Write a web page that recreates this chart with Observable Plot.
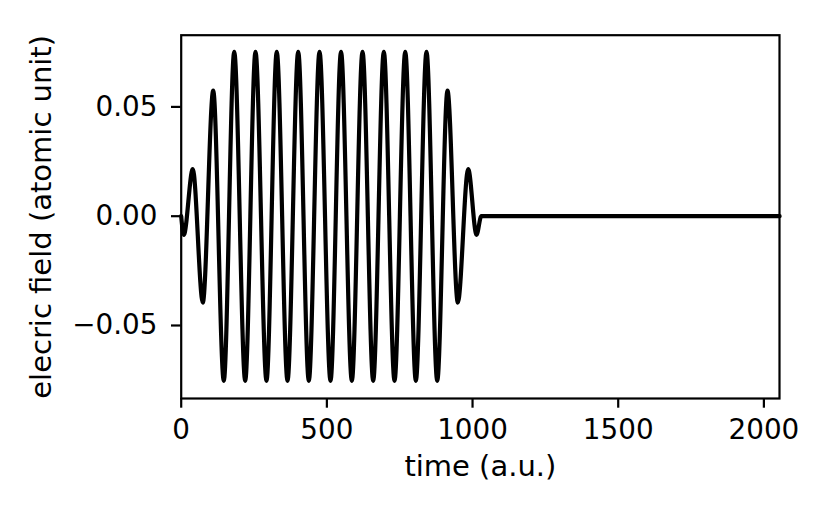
<!DOCTYPE html>
<html>
<head>
<meta charset="utf-8">
<script src="https://cdn.jsdelivr.net/npm/d3@7"></script>
<script src="https://cdn.jsdelivr.net/npm/@observablehq/plot@0.6"></script>
<style>
  html, body { margin: 0; padding: 0; background: white; }
</style>
</head>
<body>
<div id="chart"></div>
<script>
// time (a.u.) of each extremum of the pulse
const times = [0, 8.9, 39.8, 74.2, 109.9, 146.2, 182.0, 219.7, 255.0, 292.8, 328.0, 364.9, 401.6, 438.0, 474.8, 512.5, 548.6, 585.7, 622.4, 659.0, 695.5, 732.2, 769.0, 805.4, 842.0, 878.8, 914.0, 949.5, 985.0, 1013.7, 1030, 2054];
// electric field (atomic unit) at those times
const field = [0, -0.0085, 0.0215, -0.0395, 0.0574, -0.0753, 0.0752, -0.0753, 0.0752, -0.0753, 0.0752, -0.0753, 0.0752, -0.0753, 0.0752, -0.0753, 0.0752, -0.0753, 0.0752, -0.0753, 0.0752, -0.0753, 0.0752, -0.0753, 0.0752, -0.0753, 0.0574, -0.0395, 0.0215, -0.0085, 0, 0];
const xTicks = [0, 500, 1000, 1500, 2000];
const yTicks = [-0.05, 0, 0.05];
const xLabel = "time (a.u.)";
const yLabel = "elecric field (atomic unit)";

const data = times.map((t, i) => ({t, e: field[i]}));

const chart = Plot.plot({
  width: 830,
  height: 519,
  marginLeft: 180.7,
  marginRight: 51,
  marginTop: 34.7,
  marginBottom: 121,
  style: {fontFamily: "DejaVu Sans", fontSize: "27.8px", background: "white", color: "black"},
  x: {domain: [0, 2053.6]},
  y: {domain: [-0.0834, 0.0828]},
  marks: [
    Plot.line(data, {x: "t", y: "e", stroke: "black", strokeWidth: 4.2, curve: "monotone-x"}),
    Plot.frame({stroke: "black", strokeWidth: 2.2}),
    Plot.axisX({ticks: xTicks, tickFormat: d3.format("d"), tickSize: 9.7, tickPadding: 11, strokeWidth: 2.2, label: null, fontSize: 27.8}),
    Plot.axisY({ticks: yTicks, tickFormat: d3.format(".2f"), tickSize: 9.7, tickPadding: 14, strokeWidth: 2.2, label: null, fontSize: 27.8}),
    Plot.text([xLabel], {text: d => d, frameAnchor: "bottom", textAnchor: "middle", lineAnchor: "bottom", dy: 77.5, fontSize: 29, fill: "black"}),
    Plot.text([yLabel], {text: d => d, frameAnchor: "left", textAnchor: "middle", lineAnchor: "bottom", rotate: -90, dx: -130.7, fontSize: 29, fill: "black"})
  ]
});
document.getElementById("chart").appendChild(chart);
</script>
</body>
</html>
